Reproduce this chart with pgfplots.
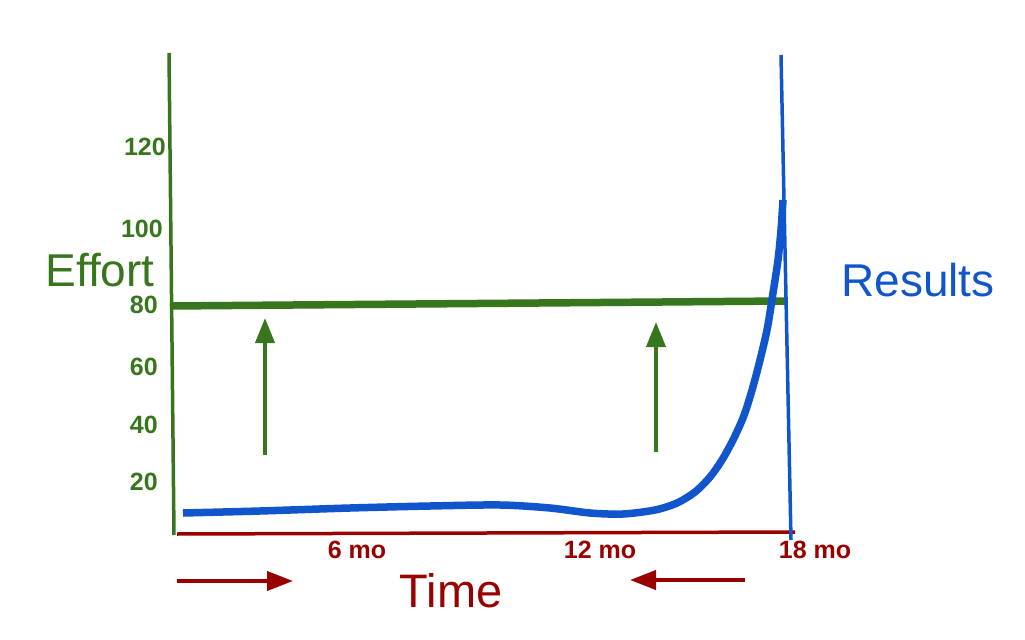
\documentclass[border=0pt]{standalone}
\usepackage{pgfplots}
\pgfplotsset{compat=1.18}
\usepackage{fontspec}
\setmainfont{Liberation Sans}
\usetikzlibrary{arrows.meta}
\definecolor{eff}{HTML}{38761D}
\definecolor{res}{HTML}{1155CC}
\definecolor{tim}{HTML}{990000}
\begin{document}
\begin{tikzpicture}
\begin{axis}[
  width=1025bp, height=640bp, scale only axis,
  xmin=0, xmax=1025, ymin=0, ymax=640, y dir=reverse,
  hide axis, clip=false,
]
% frame for bounding box
\addplot[draw=none] coordinates {(0,0) (1025,640)};
% effort axis (left)
\addplot[eff, line width=3.5bp] coordinates {(169,53) (174,535)};
% time axis
\addplot[tim, line width=3.5bp] coordinates {(177,534) (795,532)};
% effort level
\addplot[eff, line width=7.5bp] coordinates {(170,306) (785,301)};
% results curve
\addplot[res, line width=7.5bp, smooth, tension=0.5] coordinates {
 (183,513) (260,511) (350,508) (430,506) (500,505) (550,508) (590,513)
 (623,514) (655,510) (677,503) (695,492) (710,477) (722,460) (733,440)
 (743,418) (750,397) (758,368) (767,330) (773,293) (778,260) (781,230) (783,200)};
% results axis (right)
\addplot[res, line width=3.5bp] coordinates {(781,55) (791,540)};
% green arrows
\addplot[eff, line width=4bp, -{Triangle[length=25bp,width=19bp]}] coordinates {(265,455) (265,318)};
\addplot[eff, line width=4bp, -{Triangle[length=25bp,width=19bp]}] coordinates {(656,452) (656,322)};
% red arrows
\addplot[tim, line width=4bp, -{Triangle[length=26bp,width=19bp]}] coordinates {(177,581) (293,581)};
\addplot[tim, line width=4bp, -{Triangle[length=26bp,width=19bp]}] coordinates {(745,580) (630,580)};
% tick labels
\begin{scope}[every node/.style={inner sep=0pt, text=eff, font=\fontsize{25bp}{30bp}\selectfont\bfseries}]
\node[anchor=east] at (axis cs:166,147) {120};
\node[anchor=east] at (axis cs:163,229) {100};
\node[anchor=east] at (axis cs:158,305) {80};
\node[anchor=east] at (axis cs:158,367) {60};
\node[anchor=east] at (axis cs:158,425) {40};
\node[anchor=east] at (axis cs:158,482) {20};
\end{scope}
\begin{scope}[every node/.style={inner sep=0pt, text=tim, font=\fontsize{25bp}{30bp}\selectfont\bfseries}]
\node at (axis cs:357,550) {6 mo};
\node at (axis cs:600,550) {12 mo};
\node at (axis cs:815,550) {18 mo};
\end{scope}
\node[inner sep=0pt, text=eff, font=\fontsize{46bp}{54bp}\selectfont] at (axis cs:100,270) {Effort};
\node[inner sep=0pt, text=res, font=\fontsize{46bp}{54bp}\selectfont] at (axis cs:918,280) {Results};
\node[inner sep=0pt, text=tim, font=\fontsize{47bp}{54bp}\selectfont] at (axis cs:451,591) {Time};
\end{axis}
\end{tikzpicture}
\end{document}
